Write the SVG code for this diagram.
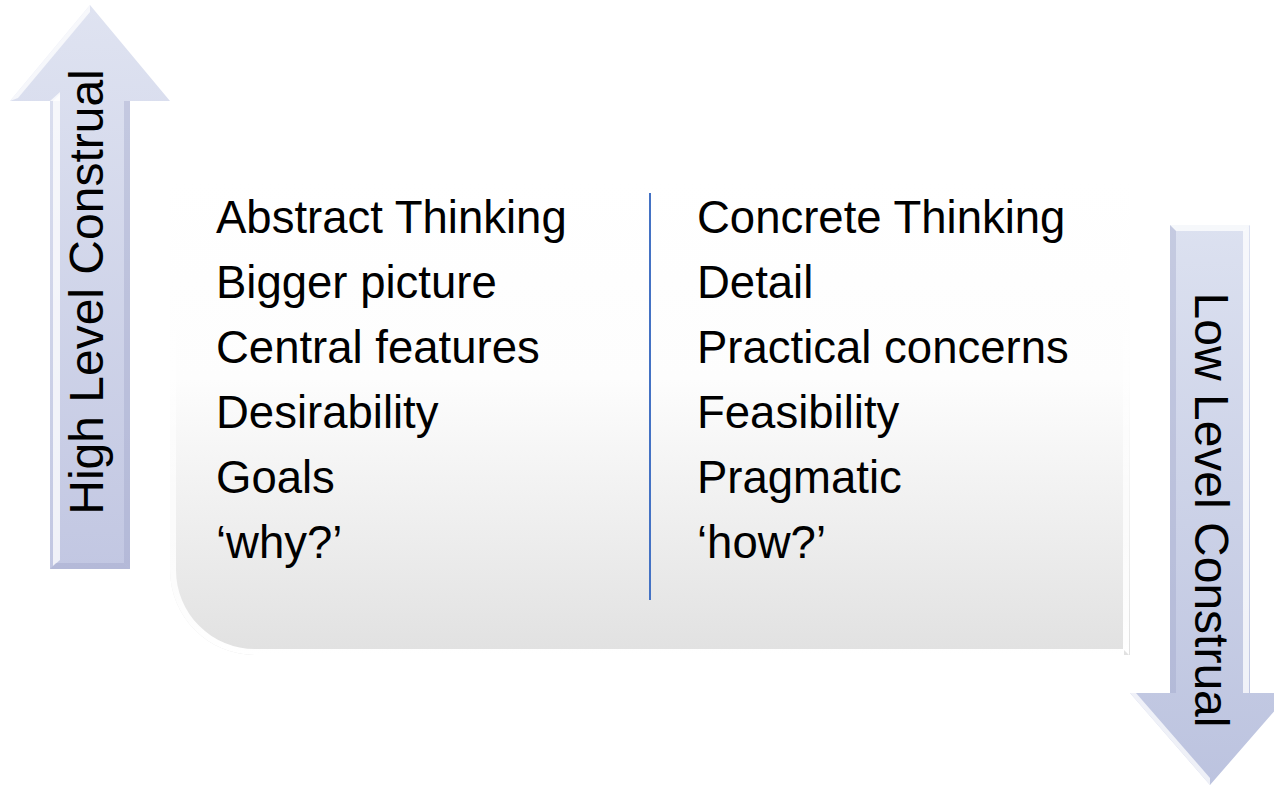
<svg xmlns="http://www.w3.org/2000/svg" width="1274" height="786" viewBox="0 0 1274 786">
<defs>
<linearGradient id="boxGrad" x1="0" y1="180" x2="0" y2="655" gradientUnits="userSpaceOnUse">
<stop offset="0" stop-color="#ffffff"/>
<stop offset="0.42" stop-color="#fdfdfd"/>
<stop offset="1" stop-color="#e1e1e1"/>
</linearGradient>
<linearGradient id="upGrad" x1="0" y1="5" x2="0" y2="569" gradientUnits="userSpaceOnUse">
<stop offset="0" stop-color="#dfe3f1"/>
<stop offset="1" stop-color="#c2c7e2"/>
</linearGradient>
<linearGradient id="downGrad" x1="0" y1="225" x2="0" y2="785" gradientUnits="userSpaceOnUse">
<stop offset="0" stop-color="#dce1f0"/>
<stop offset="1" stop-color="#bcc3df"/>
</linearGradient>
<linearGradient id="boxEdge" x1="0" y1="180" x2="0" y2="655" gradientUnits="userSpaceOnUse">
<stop offset="0" stop-color="#ffffff" stop-opacity="0"/>
<stop offset="0.5" stop-color="#ffffff" stop-opacity="0.6"/>
<stop offset="1" stop-color="#ffffff" stop-opacity="1"/>
</linearGradient>
</defs>
<style>
.body{font-family:"Liberation Sans",Arial,sans-serif;font-size:45.5px;fill:#000000;}
.axis{font-family:"Liberation Sans",Arial,sans-serif;font-size:48px;fill:#000000;}
.hl{fill:#ffffff;opacity:0.75;}
.sh{fill:#9aa1c6;opacity:0.35;}
</style>
<rect width="1274" height="786" fill="#ffffff"/>
<g id="panel">
<path d="M170,180 H1130 V655 H255 A85,85 0 0 1 170,570 Z" fill="url(#boxGrad)"/>
<path d="M176,330 V570 A79,79 0 0 0 255,649 H1124 V655 H255 A85,85 0 0 1 170,570 V330 Z" fill="url(#boxEdge)"/>
<path d="M1123,330 H1129 V655 L1123,649 Z" fill="url(#boxEdge)"/>
</g>
<g id="high-arrow">
<polygon points="90,5 170,101 130,101 130,569 50,569 50,101 10,101" fill="url(#upGrad)"/>
<polygon class="hl" points="50,101 60,92 60,101" />
<polygon class="hl" points="53,101 60,94 60,560 53,566"/>
<polygon class="sh" points="130,101 130,569 124,563 124,101"/>
<polygon class="sh" points="50,569 130,569 124,563 56,563"/>
<polygon class="hl" points="10,101 90,5 90,12 18,98" opacity="0.4"/>
<text class="axis" transform="translate(103,292) rotate(-90)" text-anchor="middle">High Level Construal</text>
</g>
<g id="low-arrow">
<polygon points="1170,225 1250,225 1250,693 1290,693 1210,785 1130,693 1170,693" fill="url(#downGrad)"/>
<polygon class="hl" points="1243,231 1249,226 1249,693 1243,693"/>
<polygon class="hl" points="1170,225 1250,225 1244,231 1176,231" opacity="0.5"/>
<polygon class="sh" points="1170,225 1176,231 1176,693 1170,693"/>
<polygon class="hl" points="1130,693 1136,693 1210,778 1210,785" opacity="0.35"/>
<text class="axis" transform="translate(1195,510) rotate(90)" text-anchor="middle">Low Level Construal</text>
</g>
<g id="connectors">
<line x1="650" y1="193" x2="650" y2="600" stroke="#4472c4" stroke-width="2"/>
</g>
<g id="left-list">
<text class="body" x="216" y="233">Abstract Thinking</text>
<text class="body" x="216" y="298">Bigger picture</text>
<text class="body" x="216" y="363">Central features</text>
<text class="body" x="216" y="428">Desirability</text>
<text class="body" x="216" y="493">Goals</text>
<text class="body" x="216" y="558">‘why?’</text>
</g>
<g id="right-list">
<text class="body" x="697" y="233">Concrete Thinking</text>
<text class="body" x="697" y="298">Detail</text>
<text class="body" x="697" y="363">Practical concerns</text>
<text class="body" x="697" y="428">Feasibility</text>
<text class="body" x="697" y="493">Pragmatic</text>
<text class="body" x="697" y="558">‘how?’</text>
</g>
</svg>
